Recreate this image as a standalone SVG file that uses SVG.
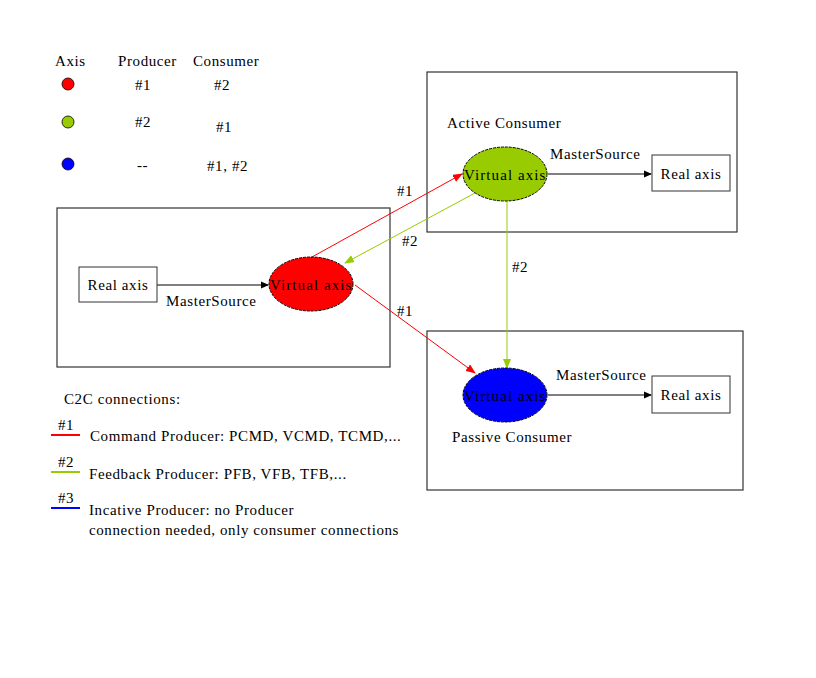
<svg xmlns="http://www.w3.org/2000/svg" width="816" height="678" viewBox="0 0 816 678">
<style>
text{font-family:"Liberation Serif","Times New Roman",serif;font-size:15px;letter-spacing:0.6px;fill:#000}
.box{fill:none;stroke:#333;stroke-width:1.2}
.rb{fill:#fff;stroke:#333;stroke-width:1}
.ell{stroke:#000;stroke-width:1;stroke-dasharray:3 1}
.blk{stroke:#000;stroke-width:1;fill:none}
.red{stroke:#f00;stroke-width:1;fill:none}
.grn{stroke:#99cc00;stroke-width:1;fill:none}
</style>
<defs>
<marker id="ab" markerWidth="8" markerHeight="8" refX="7" refY="4" orient="auto" markerUnits="userSpaceOnUse"><path d="M0,0.5 L8,4 L0,7.5 Z" fill="#000"/></marker>
<marker id="ar" markerWidth="10" markerHeight="8" refX="9" refY="4" orient="auto" markerUnits="userSpaceOnUse"><path d="M0,0 L10,4 L0,8 Z" fill="#f00"/></marker>
<marker id="ag" markerWidth="10" markerHeight="8" refX="9" refY="4" orient="auto" markerUnits="userSpaceOnUse"><path d="M0,0 L10,4 L0,8 Z" fill="#99cc00"/></marker>
</defs>
<rect width="816" height="678" fill="#fff"/>

<g id="legend-table">
<text x="55" y="66">Axis</text>
<text x="118" y="66">Producer</text>
<text x="193" y="66">Consumer</text>
<circle cx="68" cy="84" r="6" fill="#f00" stroke="#000" stroke-width="0.8"/>
<circle cx="68" cy="122" r="6" fill="#99cc00" stroke="#000" stroke-width="0.8"/>
<circle cx="68" cy="164" r="6" fill="#00f" stroke="#000" stroke-width="0.8"/>
<text x="135" y="90">#1</text>
<text x="214" y="90">#2</text>
<text x="135" y="127">#2</text>
<text x="216" y="132">#1</text>
<text x="137" y="170">--</text>
<text x="207" y="171">#1, #2</text>
</g>

<g id="left-box">
<rect class="box" x="57" y="208" width="333" height="159"/>
</g>
<g id="active-box">
<rect class="box" x="427" y="72" width="310" height="160"/>
<text x="447" y="128">Active Consumer</text>
</g>
<g id="passive-box">
<rect class="box" x="427" y="331" width="316" height="159"/>
<text x="452" y="442">Passive Consumer</text>
</g>

<g id="connectors">
<line class="blk" x1="157" y1="285" x2="268" y2="285" marker-end="url(#ab)"/>
<line class="blk" x1="548" y1="174" x2="651" y2="174" marker-end="url(#ab)"/>
<line class="blk" x1="548" y1="395" x2="651" y2="395" marker-end="url(#ab)"/>
<line class="red" x1="312" y1="257" x2="462" y2="174" marker-end="url(#ar)"/>
<line class="grn" x1="475" y1="193" x2="345" y2="263" marker-end="url(#ag)"/>
<line class="red" x1="355" y1="285" x2="475" y2="373" marker-end="url(#ar)"/>
<line class="grn" x1="507" y1="200" x2="507" y2="368" marker-end="url(#ag)"/>
<text x="166" y="306">MasterSource</text>
<text x="550" y="159">MasterSource</text>
<text x="556" y="380">MasterSource</text>
<text x="397" y="196">#1</text>
<text x="402" y="246">#2</text>
<text x="512" y="272">#2</text>
<text x="397" y="316">#1</text>
</g>

<g id="real-axis-left">
<rect class="rb" x="79" y="267" width="78" height="35"/>
<text x="118" y="290" text-anchor="middle">Real axis</text>
</g>
<g id="virtual-axis-red">
<ellipse class="ell" cx="311" cy="284" rx="42" ry="27" fill="#f00"/>
<text x="270" y="290" textLength="82" lengthAdjust="spacing">Virtual axis</text>
</g>
<g id="virtual-axis-green">
<ellipse class="ell" cx="505" cy="174" rx="42" ry="27" fill="#99cc00"/>
<text x="464" y="180" textLength="82" lengthAdjust="spacing">Virtual axis</text>
</g>
<g id="real-axis-active">
<rect class="rb" x="652" y="155" width="78" height="36"/>
<text x="691" y="179" text-anchor="middle">Real axis</text>
</g>
<g id="virtual-axis-blue">
<ellipse class="ell" cx="505" cy="395" rx="42" ry="27" fill="#00f"/>
<text x="464" y="401" textLength="82" lengthAdjust="spacing">Virtual axis</text>
</g>
<g id="real-axis-passive">
<rect class="rb" x="652" y="376" width="78" height="37"/>
<text x="691" y="400" text-anchor="middle">Real axis</text>
</g>

<g id="legend-c2c">
<text x="64" y="404">C2C connections:</text>
<line x1="51" y1="435" x2="80" y2="435" stroke="#f00" stroke-width="2"/>
<text x="58" y="430">#1</text>
<text x="90" y="441">Command Producer: PCMD, VCMD, TCMD,...</text>
<line x1="51" y1="472" x2="80" y2="472" stroke="#99cc00" stroke-width="2"/>
<text x="58" y="467">#2</text>
<text x="89" y="479">Feedback Producer: PFB, VFB, TFB,...</text>
<line x1="51" y1="508" x2="80" y2="508" stroke="#00f" stroke-width="2"/>
<text x="58" y="503">#3</text>
<text x="89" y="515">Incative Producer: no Producer</text>
<text x="89" y="535">connection needed, only consumer connections</text>
</g>
</svg>
